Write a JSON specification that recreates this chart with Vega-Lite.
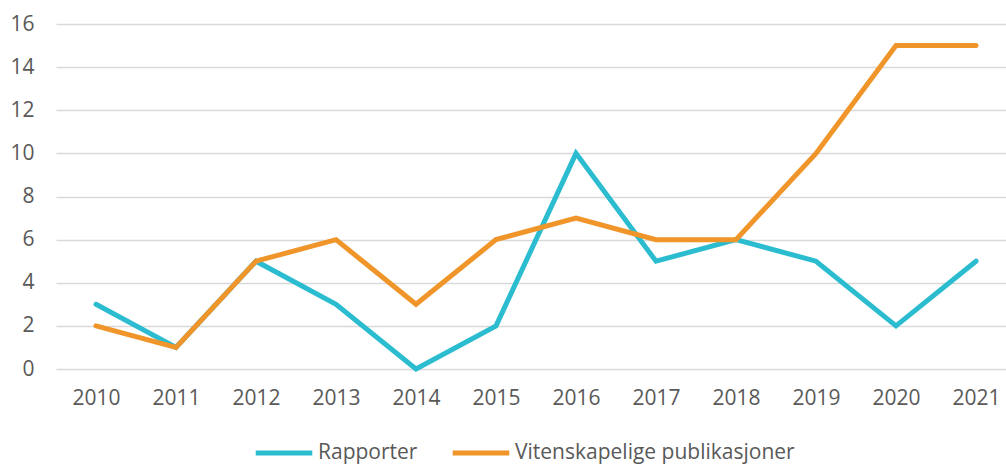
{
  "$schema": "https://vega.github.io/schema/vega-lite/v6.json",
  "width": 950,
  "height": 345,
  "autosize": {"type": "none"},
  "padding": {"left": 56, "top": 24, "right": 0, "bottom": 96},
  "background": "white",
  "config": {
    "view": {"stroke": null},
    "font": "Open Sans",
    "axis": {"labelColor": "#595959", "labelFontSize": 21, "labelFont": "Open Sans", "domain": false, "ticks": false, "gridColor": "#d9d9d9", "gridWidth": 1.5, "title": null},
    "legend": {"labelColor": "#595959", "labelFontSize": 21, "labelFont": "Open Sans"}
  },
  "data": {"values": [
    {"year": 2010, "series": "Rapporter", "value": 3},
    {"year": 2011, "series": "Rapporter", "value": 1},
    {"year": 2012, "series": "Rapporter", "value": 5},
    {"year": 2013, "series": "Rapporter", "value": 3},
    {"year": 2014, "series": "Rapporter", "value": 0},
    {"year": 2015, "series": "Rapporter", "value": 2},
    {"year": 2016, "series": "Rapporter", "value": 10},
    {"year": 2017, "series": "Rapporter", "value": 5},
    {"year": 2018, "series": "Rapporter", "value": 6},
    {"year": 2019, "series": "Rapporter", "value": 5},
    {"year": 2020, "series": "Rapporter", "value": 2},
    {"year": 2021, "series": "Rapporter", "value": 5},
    {"year": 2010, "series": "Vitenskapelige publikasjoner", "value": 2},
    {"year": 2011, "series": "Vitenskapelige publikasjoner", "value": 1},
    {"year": 2012, "series": "Vitenskapelige publikasjoner", "value": 5},
    {"year": 2013, "series": "Vitenskapelige publikasjoner", "value": 6},
    {"year": 2014, "series": "Vitenskapelige publikasjoner", "value": 3},
    {"year": 2015, "series": "Vitenskapelige publikasjoner", "value": 6},
    {"year": 2016, "series": "Vitenskapelige publikasjoner", "value": 7},
    {"year": 2017, "series": "Vitenskapelige publikasjoner", "value": 6},
    {"year": 2018, "series": "Vitenskapelige publikasjoner", "value": 6},
    {"year": 2019, "series": "Vitenskapelige publikasjoner", "value": 10},
    {"year": 2020, "series": "Vitenskapelige publikasjoner", "value": 15},
    {"year": 2021, "series": "Vitenskapelige publikasjoner", "value": 15}
  ]},
  "mark": {"type": "line", "strokeWidth": 5, "strokeCap": "round", "strokeJoin": "miter"},
  "encoding": {
    "x": {
      "field": "year", "type": "quantitative",
      "scale": {"domain": [2009.5, 2021.375], "nice": false, "zero": false},
      "axis": {"values": [2010,2011,2012,2013,2014,2015,2016,2017,2018,2019,2020,2021], "format": "d", "grid": false, "labelPadding": 18, "labelFlush": false, "labelOverlap": false}
    },
    "y": {
      "field": "value", "type": "quantitative",
      "scale": {"domain": [0, 16], "nice": false},
      "axis": {"values": [0,2,4,6,8,10,12,14,16], "labelPadding": 22, "grid": true}
    },
    "color": {
      "field": "series", "type": "nominal",
      "scale": {"domain": ["Rapporter", "Vitenskapelige publikasjoner"], "range": ["#2bbcd0", "#f0952a"]},
      "legend": {
        "title": null, "orient": "none", "direction": "horizontal",
        "legendX": 197, "legendY": 398,
        "symbolType": "stroke", "symbolSize": 3200, "symbolStrokeWidth": 5,
        "labelOffset": 3, "columnPadding": 24, "labelLimit": 500
      }
    }
  }
}
